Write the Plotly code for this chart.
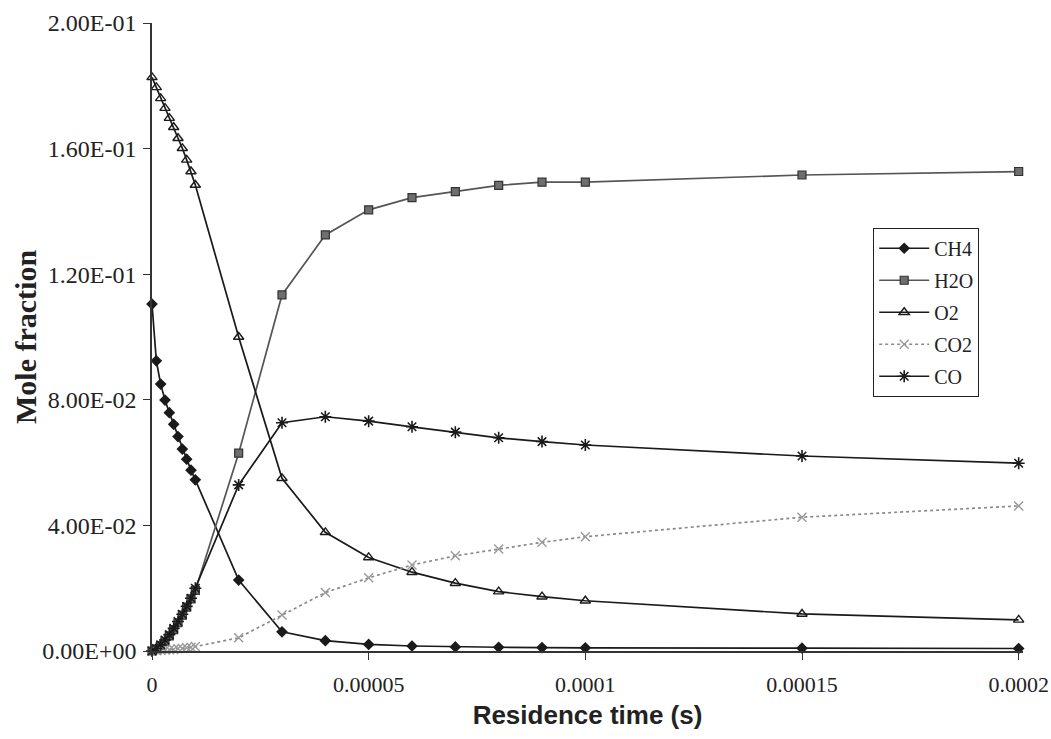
import plotly.graph_objects as go

# Residence time (s)
time_s = [0, 1e-6, 2e-6, 3e-6, 4e-6, 5e-6, 6e-6, 7e-6, 8e-6, 9e-6, 1e-5,
          2e-5, 3e-5, 4e-5, 5e-5, 6e-5, 7e-5, 8e-5, 9e-5, 1e-4, 1.5e-4, 2e-4]

ch4 = [0.1105, 0.0924, 0.0850, 0.0799, 0.0759, 0.0722, 0.0683, 0.0643, 0.0611, 0.0576, 0.0545,
       0.0226, 0.0061, 0.0033, 0.0021, 0.0016, 0.0013, 0.0012, 0.0011, 0.0010, 0.0009, 0.0008]
h2o = [0.0, 0.0006, 0.0017, 0.0031, 0.0048, 0.0068, 0.0090, 0.0114, 0.0140, 0.0166, 0.0193,
       0.0630, 0.1134, 0.1325, 0.1405, 0.1444, 0.1463, 0.1483, 0.1493, 0.1493, 0.1516, 0.1527]
o2 = [0.1827, 0.1795, 0.1760, 0.1729, 0.1697, 0.1668, 0.1633, 0.1601, 0.1564, 0.1527, 0.1484,
      0.1000, 0.0550, 0.0378, 0.0298, 0.0251, 0.0216, 0.0189, 0.0173, 0.0160, 0.0118, 0.0099]
co2 = [0.0, 0.0001, 0.0002, 0.0003, 0.0004, 0.0005, 0.0007, 0.0008, 0.0010, 0.0012, 0.0014,
       0.0042, 0.0115, 0.0186, 0.0233, 0.0274, 0.0303, 0.0325, 0.0346, 0.0364, 0.0426, 0.0462]
co = [0.0, 0.0008, 0.0020, 0.0035, 0.0052, 0.0072, 0.0094, 0.0117, 0.0142, 0.0168, 0.0200,
      0.0529, 0.0727, 0.0746, 0.0732, 0.0714, 0.0697, 0.0679, 0.0667, 0.0656, 0.0621, 0.0598]

x_tickvals = [0, 5e-5, 1e-4, 1.5e-4, 2e-4]
x_ticktext = ["0", "0.00005", "0.0001", "0.00015", "0.0002"]
y_tickvals = [0, 0.04, 0.08, 0.12, 0.16, 0.20]
y_ticktext = ["0.00E+00", "4.00E-02", "8.00E-02", "1.20E-01", "1.60E-01", "2.00E-01"]

SERIF = "Liberation Serif, Times New Roman, serif"
SANS = "Liberation Sans, Arial, sans-serif"

fig = go.Figure()

fig.add_trace(go.Scatter(
    x=time_s, y=ch4, name="CH4", legendgroup="g1", mode="lines+markers", cliponaxis=False,
    line=dict(color="#1a1a1a", width=1.7),
    marker=dict(symbol="diamond", size=9, color="#1a1a1a")))

fig.add_trace(go.Scatter(
    x=time_s, y=h2o, name="H2O", legendgroup="g2", mode="lines+markers", cliponaxis=False,
    line=dict(color="#555555", width=1.7),
    marker=dict(symbol="square", size=8, color="#6e6e6e",
                line=dict(color="#333333", width=1.2))))

fig.add_trace(go.Scatter(
    x=time_s, y=o2, name="O2", legendgroup="g3", mode="lines+markers", cliponaxis=False,
    line=dict(color="#1a1a1a", width=1.7),
    marker=dict(symbol="triangle-up-open", size=9, color="#1a1a1a",
                line=dict(color="#1a1a1a", width=1.4))))

fig.add_trace(go.Scatter(
    x=time_s, y=co2, name="CO2", legendgroup="g4", mode="lines+markers", cliponaxis=False,
    line=dict(color="#8a8a8a", width=1.7, dash="dot"),
    marker=dict(symbol="x-thin-open", size=9, color="#999999",
                line=dict(color="#999999", width=1.4))))

fig.add_trace(go.Scatter(
    x=time_s, y=co, name="CO", legendgroup="g5", mode="lines+markers", cliponaxis=False,
    line=dict(color="#1a1a1a", width=1.7),
    marker=dict(symbol="asterisk-open", size=10, color="#1a1a1a",
                line=dict(color="#1a1a1a", width=1.6))))

fig.update_layout(
    width=1051, height=739,
    margin=dict(l=152, r=28, t=23, b=88),
    paper_bgcolor="white", plot_bgcolor="white",
    showlegend=True,
    legend=dict(
        x=0.828, y=0.674, xanchor="left", yanchor="top",
        bgcolor="white", bordercolor="#222222", borderwidth=1,
        font=dict(family=SERIF, size=20, color="#222222"),
        itemwidth=50, traceorder="grouped", tracegroupgap=3,
    ),
    xaxis=dict(
        range=[0, 2.01e-4], automargin=False,
        tickvals=x_tickvals, ticktext=x_ticktext,
        showline=True, linecolor="#333333", linewidth=1.5,
        ticks="outside", ticklen=7, tickcolor="#333333", tickwidth=1.2,
        showgrid=False, zeroline=False,
        tickfont=dict(family=SERIF, size=22, color="#222222"),
        ticklabelstandoff=6,
        title=dict(text="<b>Residence time (s)</b>", standoff=10,
                   font=dict(family=SANS, size=26, color="#222222")),
    ),
    yaxis=dict(
        range=[0, 0.2], automargin=False,
        tickvals=y_tickvals, ticktext=y_ticktext,
        showline=True, linecolor="#333333", linewidth=1.5,
        ticks="outside", ticklen=7, tickcolor="#333333", tickwidth=1.2,
        showgrid=False, zeroline=False,
        tickfont=dict(family=SERIF, size=24, color="#222222"),
        ticklabelstandoff=2,
    ),
    annotations=[dict(
        text="<b>Mole fraction</b>", textangle=-90,
        xref="paper", yref="paper", x=-127 / 871, y=0.5,
        xanchor="center", yanchor="middle", showarrow=False,
        font=dict(family=SERIF, size=30, color="#222222"),
    )],
)

fig.write_html("out.html")
